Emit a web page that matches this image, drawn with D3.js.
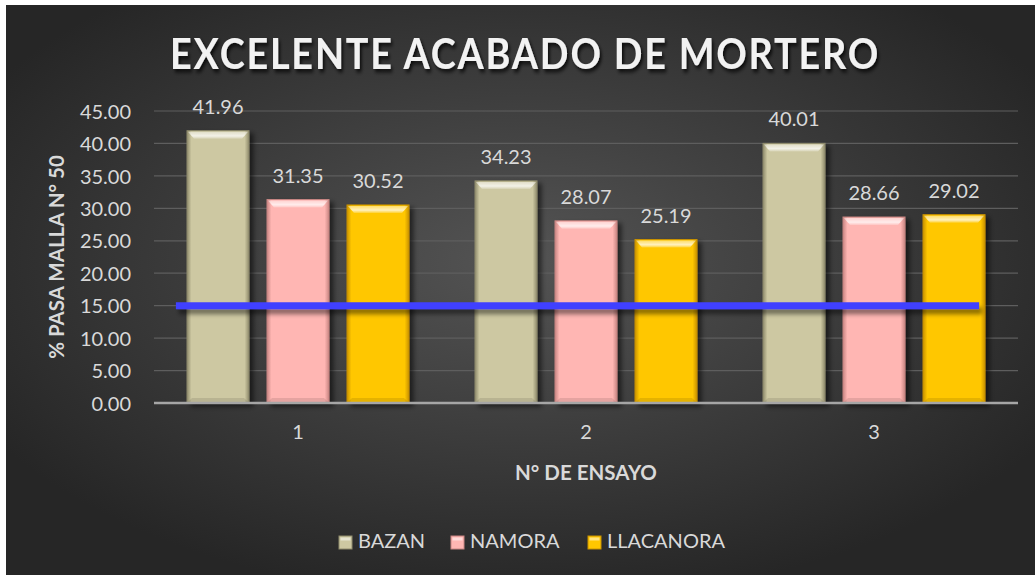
<!DOCTYPE html>
<html>
<head>
<meta charset="utf-8">
<script src="https://cdn.jsdelivr.net/npm/d3@7"></script>
<style>
  body { margin: 0; background: #fff; }
  svg { display: block; font-family: Lato, "Open Sans", sans-serif; }
</style>
</head>
<body>
<svg class="chart" width="1035" height="575"></svg>
<script>
// data
const ensayos = ["1", "2", "3"];
const seriesNames = ["BAZAN", "NAMORA", "LLACANORA"];
const bazan = [41.96, 34.23, 40.01];
const namora = [31.35, 28.07, 28.66];
const llacanora = [30.52, 25.19, 29.02];
const limite = 15;
const yTicks = [0, 5, 10, 15, 20, 25, 30, 35, 40, 45];

const seriesValues = [bazan, namora, llacanora];
const colors = ["#cdc8a2", "#ffb6b3", "#ffc700"];
const darkColors = ["#8f8b6c", "#c98683", "#c99200"];

const svg = d3.select(".chart");
const width = 1035, height = 575;

const defs = svg.append("defs");

// background gradient
const bg = defs.append("radialGradient").attr("id", "bg")
  .attr("cx", "0.5").attr("cy", "0.45").attr("r", "0.6");
bg.append("stop").attr("offset", "0%").attr("stop-color", "#545454");
bg.append("stop").attr("offset", "100%").attr("stop-color", "#262626");

svg.append("rect")
  .attr("x", 6).attr("y", 5)
  .attr("width", width - 6).attr("height", height - 5)
  .attr("fill", "url(#bg)");

// shadow filters
const sh = defs.append("filter").attr("id", "shadow")
  .attr("x", "-20%").attr("y", "-20%").attr("width", "150%").attr("height", "150%");
sh.append("feDropShadow").attr("dx", 4).attr("dy", 3).attr("stdDeviation", 2.5)
  .attr("flood-color", "#000").attr("flood-opacity", 0.55);

// line shadow (user space, since a flat line has no bbox height)
const lsh = defs.append("filter").attr("id", "lshadow")
  .attr("filterUnits", "userSpaceOnUse")
  .attr("x", 0).attr("y", 0).attr("width", width).attr("height", height);
lsh.append("feDropShadow").attr("dx", 3).attr("dy", 5).attr("stdDeviation", 2)
  .attr("flood-color", "#000").attr("flood-opacity", 0.45);

const tsh = defs.append("filter").attr("id", "tshadow")
  .attr("x", "-10%").attr("y", "-30%").attr("width", "120%").attr("height", "170%");
tsh.append("feDropShadow").attr("dx", 2).attr("dy", 3).attr("stdDeviation", 2)
  .attr("flood-color", "#000").attr("flood-opacity", 0.8);

// side shading gradient for bars
colors.forEach((c, i) => {
  const g = defs.append("linearGradient").attr("id", "side" + i)
    .attr("x1", 0).attr("x2", 1).attr("y1", 0).attr("y2", 0);
  g.append("stop").attr("offset", "0%").attr("stop-color", darkColors[i]);
  g.append("stop").attr("offset", "7%").attr("stop-color", c);
  g.append("stop").attr("offset", "93%").attr("stop-color", c);
  g.append("stop").attr("offset", "100%").attr("stop-color", darkColors[i]);
});

// top bevel gradient
const tb = defs.append("linearGradient").attr("id", "topbevel")
  .attr("x1", 0).attr("x2", 0).attr("y1", 0).attr("y2", 1);
tb.append("stop").attr("offset", "0%").attr("stop-color", "#fff").attr("stop-opacity", 0.4);
tb.append("stop").attr("offset", "60%").attr("stop-color", "#fff").attr("stop-opacity", 0.75);
tb.append("stop").attr("offset", "100%").attr("stop-color", "#fff").attr("stop-opacity", 0.2);

// scales
const plotLeft = 154, plotRight = 1018, plotTop = 111, plotBottom = 403;
const x0 = d3.scaleBand().domain(ensayos).range([plotLeft, plotRight]).paddingInner(0).paddingOuter(0);
const x1 = d3.scaleBand().domain(seriesNames).range([33, x0.bandwidth() - 33]).paddingInner(0.225);
const y = d3.scaleLinear().domain([0, 45]).range([plotBottom, plotTop]);

// title
svg.append("text")
  .attr("transform", "translate(525,69) scale(0.9,1)")
  .attr("text-anchor", "middle")
  .attr("font-size", 42).attr("font-weight", "bold")
  .attr("letter-spacing", 2)
  .attr("fill", "#f2f2f2")
  .attr("filter", "url(#tshadow)")
  .text("EXCELENTE ACABADO DE MORTERO");

// gridlines
svg.append("g")
  .selectAll("line")
  .data(yTicks.filter(d => d > 0))
  .join("line")
  .attr("x1", plotLeft).attr("x2", plotRight)
  .attr("y1", d => y(d)).attr("y2", d => y(d))
  .attr("stroke", "#5e5e5e").attr("stroke-width", 1.2);

// y axis labels
const yAxis = svg.append("g")
  .attr("transform", `translate(${plotLeft},0)`)
  .call(d3.axisLeft(y).tickValues(yTicks).tickFormat(d3.format(".2f")).tickSize(0).tickPadding(23));
yAxis.select(".domain").remove();
yAxis.selectAll("text")
  .attr("font-size", 20).attr("fill", "#d9d9d9")
  .attr("font-family", "Lato, sans-serif")
  .attr("dy", "0.36em");

// bars
const groups = svg.append("g").selectAll("g")
  .data(ensayos)
  .join("g")
  .attr("transform", d => `translate(${x0(d)},0)`);

const barData = (d, i) => seriesNames.map((s, k) => ({ s, k, v: seriesValues[k][i] }));

groups.each(function (d, i) {
  const g = d3.select(this);
  const bars = g.selectAll("g.bar").data(barData(d, i)).join("g").attr("class", "bar");
  bars.append("rect")
    .attr("x", b => x1(b.s))
    .attr("y", b => y(b.v))
    .attr("width", x1.bandwidth())
    .attr("height", b => y(0) - y(b.v))
    .attr("fill", b => `url(#side${b.k})`)
    .attr("stroke", b => darkColors[b.k]).attr("stroke-width", 1)
    .attr("filter", "url(#shadow)");
  // top bevel highlight
  bars.append("path")
    .attr("d", b => {
      const xl = x1(b.s), xr = xl + x1.bandwidth(), yt = y(b.v);
      return `M${xl + 1},${yt + 1} L${xr - 1},${yt + 1} L${xr - 7},${yt + 8} L${xl + 7},${yt + 8} Z`;
    })
    .attr("fill", "url(#topbevel)");
  // bottom bevel shade
  bars.append("path")
    .attr("d", b => {
      const xl = x1(b.s), xr = xl + x1.bandwidth(), yb = y(0);
      return `M${xl + 1},${yb - 1} L${xr - 1},${yb - 1} L${xr - 5},${yb - 5} L${xl + 5},${yb - 5} Z`;
    })
    .attr("fill", "#000").attr("opacity", 0.1);
  bars.append("text")
    .attr("x", b => x1(b.s) + x1.bandwidth() / 2)
    .attr("y", b => y(b.v) - 17)
    .attr("text-anchor", "middle")
    .attr("font-size", 20).attr("fill", "#d9d9d9")
    .text(b => b.v.toFixed(2));
});

// x axis line
svg.append("line")
  .attr("x1", plotLeft).attr("x2", plotRight)
  .attr("y1", y(0)).attr("y2", y(0))
  .attr("stroke", "#a6a6a6").attr("stroke-width", 2.5);

// x axis labels
const xAxis = svg.append("g")
  .attr("transform", `translate(0,${plotBottom})`)
  .call(d3.axisBottom(x0).tickSize(0).tickPadding(22));
xAxis.select(".domain").remove();
xAxis.selectAll("text")
  .attr("font-size", 20).attr("fill", "#d9d9d9")
  .attr("font-family", "Lato, sans-serif");

// limit line at 15
svg.append("line")
  .attr("x1", x0(ensayos[0]) + 0.076 * x0.bandwidth())
  .attr("x2", x0(ensayos[2]) + 0.865 * x0.bandwidth())
  .attr("y1", y(limite)).attr("y2", y(limite))
  .attr("stroke", "#4141ff").attr("stroke-width", 7)
  .attr("filter", "url(#lshadow)");

// axis titles
svg.append("text")
  .attr("transform", `translate(64,257) rotate(-90)`)
  .attr("text-anchor", "middle")
  .attr("font-size", 20.5).attr("font-weight", "bold")
  .attr("fill", "#d9d9d9")
  .text("% PASA MALLA N° 50");

svg.append("text")
  .attr("x", 586).attr("y", 480)
  .attr("text-anchor", "middle")
  .attr("font-size", 20.5).attr("font-weight", "bold")
  .attr("fill", "#d9d9d9")
  .text("N° DE ENSAYO");

// legend
const legendX = [339, 451, 588];
const legend = svg.append("g").selectAll("g")
  .data(seriesNames)
  .join("g")
  .attr("transform", (d, i) => `translate(${legendX[i]},536)`);
legend.append("rect")
  .attr("width", 13).attr("height", 13)
  .attr("fill", (d, i) => colors[i])
  .attr("stroke", (d, i) => darkColors[i]).attr("stroke-width", 1);
legend.append("rect")
  .attr("x", 1.5).attr("y", 1.5).attr("width", 10).attr("height", 3)
  .attr("fill", "#fff").attr("opacity", 0.5);
legend.append("text")
  .attr("x", 19).attr("y", 12)
  .attr("font-size", 20).attr("fill", "#d9d9d9")
  .text(d => d);
</script>
</body>
</html>
